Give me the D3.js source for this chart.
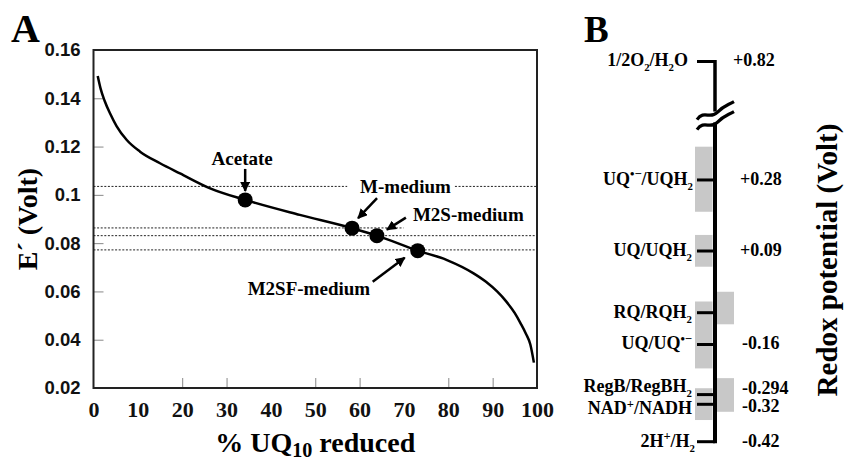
<!DOCTYPE html>
<html>
<head>
<meta charset="utf-8">
<script src="https://cdn.jsdelivr.net/npm/d3@7"></script>
<style>
  body { margin: 0; background: #fff; }
  svg { display: block; }
  .serif { font-family: "Liberation Serif", "Times New Roman", serif; font-weight: bold; }
  .sans { font-family: "Liberation Sans", Arial, sans-serif; font-weight: bold; }
</style>
</head>
<body>
<div id="chart"></div>
<script>
// panel A: redox potential of the UQ10 pool vs. reduction level
const curveX = [0.95, 1.6, 2.5, 3.8, 5.2, 7.5, 10.5, 15.0, 19.5, 26.3, 34.2, 46.5, 58.3, 63.9, 73.1, 79.7, 85.7, 88.5, 91.0, 93.0, 95.0, 96.3, 97.5, 98.5, 99.3]
const curveY = [0.1492, 0.1440, 0.1390, 0.1335, 0.1285, 0.1227, 0.1179, 0.1131, 0.1089, 0.1027, 0.0979, 0.0917, 0.0862, 0.0831, 0.0769, 0.0730, 0.0675, 0.0640, 0.0600, 0.0560, 0.0510, 0.0468, 0.0425, 0.0380, 0.0305]

const mediaNames = ['Acetate', 'M-medium', 'M2S-medium', 'M2SF-medium']
const mediaX = [34.2, 58.3, 63.9, 73.1]
const mediaY = [0.0979, 0.0862, 0.0831, 0.0769]

// dotted reference lines: level and x-range (in % reduced) of each piece
const refLevels = [0.1035, 0.1035, 0.0863, 0.0831, 0.0772]
const refFrom = [0, 81.5, 0, 0, 0]
const refTo = [57.2, 100, 69.9, 100, 100]

const yTickValues = [0.02, 0.04, 0.06, 0.08, 0.1, 0.12, 0.14, 0.16]
const xLabelValues = [0, 10, 20, 30, 40, 50, 60, 70, 80, 90, 100]
const xTickMarks = [20, 30, 50, 60, 80, 90]

// panel B: redox couples
const coupleNames = ['1/2O_2_/H_2_O', 'UQ^•−^/UQH_2_', 'UQ/UQH_2_', 'RQ/RQH_2_', 'UQ/UQ^•−^', 'RegB/RegBH_2_', 'NAD^+^/NADH', '2H^+^/H_2_']
const coupleValues = [0.82, 0.28, 0.09, -0.075, -0.16, -0.294, -0.32, -0.42]
const coupleLabels = ['+0.82', '+0.28', '+0.09', '', '-0.16', '-0.294', '-0.32', '-0.42']

// grey range boxes (volts), left and right of the axis
const boxSide = ['left', 'left', 'left', 'left', 'right', 'right']
const boxTop = [0.369, 0.133, -0.045, -0.277, -0.019, -0.250]
const boxBottom = [0.195, 0.048, -0.224, -0.362, -0.106, -0.340]

const W = 846, H = 460

let svg = d3.select('#chart').append('svg')
    .attr('width', W)
    .attr('height', H)

svg.append('defs').append('marker')
    .attr('id', 'arrow')
    .attr('viewBox', '0 0 10 10')
    .attr('refX', 9).attr('refY', 5)
    .attr('markerWidth', 4).attr('markerHeight', 4)
    .attr('markerUnits', 'strokeWidth')
    .attr('orient', 'auto')
    .append('path')
    .attr('d', 'M0,0 L10,5 L0,10 z')
    .attr('fill', '#000')

function rich(text, str, size, shiftRatio, sizeRatio) {
    let parts = str.split(/(_[^_]+_|\^[^^]+\^)/).filter(s => s)
    let shift = 0
    parts.forEach(p => {
        let target = 0, fs = size
        if (p[0] == '_') { target = size * (shiftRatio || 0.3); fs = size * (sizeRatio || 0.6); p = p.slice(1, -1) }
        else if (p[0] == '^') { target = -size * 0.36; fs = size * 0.7; p = p.slice(1, -1) }
        text.append('tspan')
            .attr('dy', target - shift)
            .style('font-size', fs + 'px')
            .text(p)
        shift = target
    })
}

drawPanelA()
drawPanelB()

function drawPanelA() {
    let x = d3.scaleLinear().domain([0, 100]).range([93.5, 537])
    let y = d3.scaleLinear().domain([0.02, 0.16]).range([388, 50])

    svg.append('text')
        .attr('class', 'serif')
        .attr('x', 11).attr('y', 42)
        .style('font-size', '40px')
        .text('A')

    // dotted reference lines
    svg.append('g').selectAll('line')
        .data(refLevels)
        .join('line')
        .attr('x1', (d, i) => x(refFrom[i]))
        .attr('x2', (d, i) => x(refTo[i]))
        .attr('y1', d => y(d))
        .attr('y2', d => y(d))
        .attr('stroke', '#222')
        .attr('stroke-width', 1)
        .attr('stroke-dasharray', '2,1.6')

    // y axis: labels outside, short ticks pointing in
    let yAxis = d3.axisLeft(y).tickValues(yTickValues).tickSize(-10).tickPadding(13)
        .tickFormat(d => d3.format('.2~f')(d))
    let yAxisEl = svg.append('g')
        .attr('transform', `translate(${x(0)},0)`)
        .call(yAxis)
    yAxisEl.select('.domain').remove()
    yAxisEl.selectAll('line').attr('stroke', '#888')
    yAxisEl.selectAll('text')
        .attr('class', 'sans')
        .attr('fill', '#111')
        .style('font-size', '18.5px')

    let xAxis = d3.axisBottom(x).tickValues(xLabelValues).tickSize(0).tickPadding(13)
    let xAxisEl = svg.append('g')
        .attr('transform', `translate(0,${y(0.02)})`)
        .call(xAxis)
    xAxisEl.select('.domain').remove()
    xAxisEl.selectAll('text')
        .attr('class', 'serif')
        .attr('fill', '#111')
        .style('font-size', '22px')

    let xMarks = d3.axisBottom(x).tickValues(xTickMarks).tickSize(-10).tickFormat('')
    let xMarksEl = svg.append('g')
        .attr('transform', `translate(0,${y(0.02)})`)
        .call(xMarks)
    xMarksEl.select('.domain').remove()
    xMarksEl.selectAll('line').attr('stroke', '#888')

    // frame
    svg.append('rect')
        .attr('x', x(0)).attr('y', y(0.16))
        .attr('width', x(100) - x(0))
        .attr('height', y(0.02) - y(0.16))
        .attr('fill', 'none')
        .attr('stroke', '#222')
        .attr('stroke-width', 2)

    let line = d3.line()
        .x((d, i) => x(curveX[i]))
        .y(d => y(d))
        .curve(d3.curveMonotoneX)

    svg.append('path')
        .datum(curveY)
        .attr('d', line)
        .attr('fill', 'none')
        .attr('stroke', '#000')
        .attr('stroke-width', 2.5)

    svg.append('g').selectAll('circle')
        .data(mediaY)
        .join('circle')
        .attr('cx', (d, i) => x(mediaX[i]))
        .attr('cy', d => y(d))
        .attr('r', 7.5)
        .attr('fill', '#000')

    // annotation layout, pixel offsets from each point
    let tail = [[0, -31], [25, -30], [29, -18], [-45, 31]]
    let head = [[0, -9], [6, -10], [10, -6], [-13, 7]]
    let labelAt = [[-3, -35], [8, -35], [36, -15], [-170, 44]]
    let anchor = ['middle', 'start', 'start', 'start']

    mediaNames.forEach((name, i) => {
        let px = x(mediaX[i]), py = y(mediaY[i])
        svg.append('line')
            .attr('x1', px + tail[i][0]).attr('y1', py + tail[i][1])
            .attr('x2', px + head[i][0]).attr('y2', py + head[i][1])
            .attr('stroke', '#000')
            .attr('stroke-width', 2.5)
            .attr('marker-end', 'url(#arrow)')
        svg.append('text')
            .attr('class', 'serif')
            .attr('x', px + labelAt[i][0])
            .attr('y', py + labelAt[i][1])
            .attr('text-anchor', anchor[i])
            .style('font-size', '19px')
            .text(name)
    })

    svg.append('text')
        .attr('class', 'serif')
        .attr('text-anchor', 'middle')
        .attr('transform', `translate(37,${(y(0.02) + y(0.16)) / 2}) rotate(-90)`)
        .style('font-size', '28px')
        .text('E´ (Volt)')

    let xTitle = svg.append('text')
        .attr('class', 'serif')
        .attr('text-anchor', 'middle')
        .attr('x', (x(0) + x(100)) / 2)
        .attr('y', 452)
        .style('font-size', '28px')
    rich(xTitle, '% UQ_10_ reduced', 28, 0.18, 0.72)
}

function drawPanelB() {
    let axisX = 715
    // piecewise scale, the part above +0.40 is squeezed above the break
    let y = d3.scaleLinear()
        .domain([-0.42, 0.40, 0.82])
        .range([441.7, 135.1, 61.5])

    svg.append('text')
        .attr('class', 'serif')
        .attr('x', 584).attr('y', 42)
        .style('font-size', '37px')
        .text('B')

    svg.append('g').selectAll('rect')
        .data(boxTop)
        .join('rect')
        .attr('x', (d, i) => boxSide[i] == 'left' ? axisX - 20 : axisX + 1.5)
        .attr('y', d => y(d))
        .attr('width', 17.5)
        .attr('height', (d, i) => y(boxBottom[i]) - y(d))
        .attr('fill', '#c8c8c8')

    let breakY = y(0.5)
    svg.append('line')
        .attr('x1', axisX).attr('x2', axisX)
        .attr('y1', y(0.82) - 1.5).attr('y2', breakY - 6)
        .attr('stroke', '#000').attr('stroke-width', 3.5)
    svg.append('line')
        .attr('x1', axisX).attr('x2', axisX)
        .attr('y1', breakY + 5).attr('y2', y(-0.42) + 1.5)
        .attr('stroke', '#000').attr('stroke-width', 4)

    // the break mark
    for (let off of [-5, 5]) {
        let cy = breakY + off
        svg.append('path')
            .attr('d', `M${axisX - 18},${cy + 7} C${axisX - 11},${cy - 3} ${axisX - 5},${cy + 7} ${axisX + 2},${cy}`
                + ` S${axisX + 12},${cy - 7} ${axisX + 19},${cy - 11}`)
            .attr('fill', 'none')
            .attr('stroke', '#000')
            .attr('stroke-width', 3.2)
    }

    svg.append('g').selectAll('line')
        .data(coupleValues)
        .join('line')
        .attr('x1', axisX - 18).attr('x2', axisX)
        .attr('y1', d => y(d)).attr('y2', d => y(d))
        .attr('stroke', '#000')
        .attr('stroke-width', 3)

    // small nudges so close labels do not collide
    let nameNudge = [4, 5, 5, 5, 5, -3, 10, 5]
    let nameRight = [688, 693, 692, 692, 692, 692, 692, 695]
    let valueNudge = [4, 5, 5, 5, 5, -1, 8, 5]
    let valueLeft = [733, 740, 740, 740, 742, 742, 742, 742]

    coupleNames.forEach((name, i) => {
        let t = svg.append('text')
            .attr('class', 'serif')
            .attr('x', nameRight[i])
            .attr('y', y(coupleValues[i]) + nameNudge[i])
            .attr('text-anchor', 'end')
            .style('font-size', '18px')
        rich(t, name, 18)
        svg.append('text')
            .attr('class', 'serif')
            .attr('x', valueLeft[i])
            .attr('y', y(coupleValues[i]) + valueNudge[i])
            .style('font-size', '18px')
            .text(coupleLabels[i])
    })

    svg.append('text')
        .attr('class', 'serif')
        .attr('text-anchor', 'middle')
        .attr('transform', 'translate(837,260) rotate(-90)')
        .style('font-size', '29px')
        .text('Redox potential (Volt)')
}
</script>
</body>
</html>
